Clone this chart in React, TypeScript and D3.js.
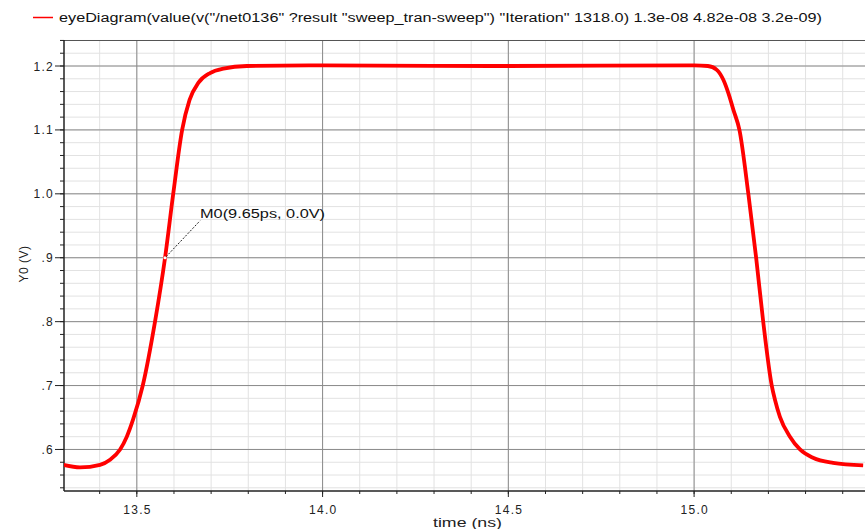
import React from "react";
import * as d3 from "d3";

const legendText =
  'eyeDiagram(value(v("/net0136" ?result "sweep_tran-sweep") "Iteration" 1318.0) 1.3e-08 4.82e-08 3.2e-09)';
const xTickLabels = ["13.5", "14.0", "14.5", "15.0"];
const xMajorTicks = [13.5, 14.0, 14.5, 15.0];
const yTickLabels = [".6", ".7", ".8", ".9", "1.0", "1.1", "1.2"];
const yMajorTicks = [0.6, 0.7, 0.8, 0.9, 1.0, 1.1, 1.2];

const times = [
  13.302, 13.347, 13.401, 13.428, 13.455, 13.473, 13.49, 13.516, 13.549, 13.576,
  13.598, 13.622, 13.642, 13.666, 13.697, 13.733, 13.796,
  14.0, 14.5, 15.0,
  15.037, 15.061, 15.079, 15.092, 15.106, 15.122, 15.146, 15.167, 15.186, 15.209,
  15.218, 15.231, 15.258, 15.285, 15.32, 15.374, 15.455,
];
const volts = [
  0.576, 0.572, 0.576, 0.584, 0.6, 0.62, 0.647, 0.7, 0.8, 0.9,
  1.0, 1.1, 1.147, 1.174, 1.189, 1.196, 1.2,
  1.201, 1.2, 1.201,
  1.2, 1.194, 1.178, 1.158, 1.131, 1.1, 1.0, 0.9, 0.8, 0.7,
  0.677, 0.651, 0.62, 0.6, 0.587, 0.579, 0.575,
];
const markerT = 13.576;
const markerV = 0.9;
const markerLabel = "M0(9.65ps, 0.0V)";

const W = 865;
const H = 529;
const left = 64;
const right = 865;
const top = 40;
const bottom = 491;
const font = "'Liberation Sans', Arial, sans-serif";

export default function App() {
  const x = d3.scaleLinear().domain([13.304, 15.46]).range([left, right]);
  const y = d3.scaleLinear().domain([0.535, 1.2407]).range([bottom, top]);

  const xMinor = d3.range(13.4, 15.46, 0.1).map((v) => Math.round(v * 10) / 10);
  const yMinor = d3.range(0.54, 1.241, 0.02).map((v) => Math.round(v * 100) / 100);

  const pts: [number, number][] = times.map((t, i) => [t, volts[i]]);
  const line = d3
    .line<[number, number]>()
    .x((d) => x(d[0]))
    .y((d) => y(d[1]))
    .curve(d3.curveMonotoneX);

  const mx = x(markerT);
  const my = y(markerV);

  return (
    <svg width={W} height={H} style={{ position: "absolute", left: 0, top: 0, background: "#fff" }}>
      <rect x={0} y={0} width={W} height={H} fill="#fff" />
      {/* legend */}
      <line x1={33} x2={53} y1={17.5} y2={17.5} stroke="#ff0000" strokeWidth={1.5} />
      <text x={59} y={21.5} fontFamily={font} fontSize={12} fill="#111" textLength={763} lengthAdjust="spacingAndGlyphs">
        {legendText}
      </text>
      <defs>
        <clipPath id="plot">
          <rect x={left} y={top} width={right - left} height={bottom - top} />
        </clipPath>
      </defs>
      {/* minor grid */}
      <g stroke="#e2e2e2" strokeWidth={1}>
        {xMinor.map((v) => (
          <line key={"xm" + v} x1={x(v)} x2={x(v)} y1={top} y2={bottom} />
        ))}
        {yMinor.map((v) => (
          <line key={"ym" + v} x1={left} x2={right} y1={y(v)} y2={y(v)} />
        ))}
      </g>
      {/* major grid */}
      <g stroke="#8a8a8a" strokeWidth={1}>
        {xMajorTicks.map((v) => (
          <line key={"xM" + v} x1={x(v)} x2={x(v)} y1={top} y2={bottom} />
        ))}
        {yMajorTicks.map((v) => (
          <line key={"yM" + v} x1={left} x2={right} y1={y(v)} y2={y(v)} />
        ))}
      </g>
      {/* frame */}
      <line x1={left} x2={right} y1={top + 0.5} y2={top + 0.5} stroke="#555" strokeWidth={1.2} />
      <line x1={left} x2={left} y1={top} y2={bottom} stroke="#222" strokeWidth={1.5} />
      <line x1={left} x2={right} y1={bottom} y2={bottom} stroke="#222" strokeWidth={1.5} />
      {/* ticks */}
      <g stroke="#222" strokeWidth={1}>
        {yMinor.map((v) => (
          <line key={"yt" + v} x1={left - 4} x2={left} y1={y(v)} y2={y(v)} />
        ))}
        {yMajorTicks.map((v) => (
          <line key={"yT" + v} x1={left - 9} x2={left} y1={y(v)} y2={y(v)} />
        ))}
        {xMinor.map((v) => (
          <line key={"xt" + v} x1={x(v)} x2={x(v)} y1={bottom} y2={bottom + 3} />
        ))}
        {xMajorTicks.map((v) => (
          <line key={"xT" + v} x1={x(v)} x2={x(v)} y1={bottom} y2={bottom + 6} />
        ))}
      </g>
      <g fontFamily={font} fontSize={12} fill="#222" letterSpacing={1.3}>
        {yMajorTicks.map((v, i) => (
          <text key={"yl" + v} x={54} y={y(v) + 4.5} textAnchor="end">
            {yTickLabels[i]}
          </text>
        ))}
        {xMajorTicks.map((v, i) => (
          <text key={"xl" + v} x={x(v) + 0.7} y={513.5} textAnchor="middle">
            {xTickLabels[i]}
          </text>
        ))}
      </g>
      <g fontFamily={font} fontSize={12} fill="#222">
        <text x={433} y={527} textLength={69} lengthAdjust="spacingAndGlyphs">time (ns)</text>
        <text transform="translate(28,264) rotate(-90)" textAnchor="middle" letterSpacing={0.5}>Y0 (V)</text>
      </g>
      {/* curve */}
      <g clipPath="url(#plot)">
        <path d={line(pts) ?? ""} fill="none" stroke="#ff0000" strokeWidth={3.8} strokeLinejoin="round" />
      </g>
      {/* marker */}
      <circle cx={mx} cy={my} r={1.6} fill="#fff" />
      <line x1={mx + 1} y1={my - 1} x2={mx + 35} y2={my - 37} stroke="#222" strokeWidth={1} strokeDasharray="2,1.5" />
      <text x={mx + 35} y={my - 40} fontFamily={font} fontSize={12} fill="#111" textLength={125} lengthAdjust="spacingAndGlyphs">
        {markerLabel}
      </text>
    </svg>
  );
}
